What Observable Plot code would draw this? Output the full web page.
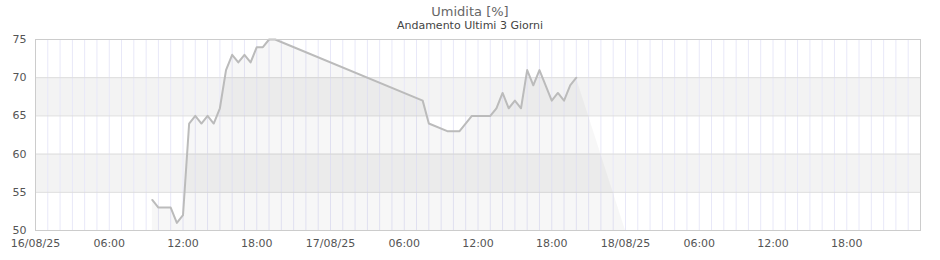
<!DOCTYPE html>
<html>
<head>
<meta charset="utf-8">
<script src="https://cdn.jsdelivr.net/npm/d3@7"></script>
<script src="https://cdn.jsdelivr.net/npm/@observablehq/plot@0.6"></script>
<style>
  html, body { margin: 0; padding: 0; background: #fff; }
  #wrap { position: relative; width: 940px; height: 260px; font-family: "DejaVu Sans", sans-serif; }
  #title { position: absolute; left: 0; width: 940px; top: 4px; text-align: center; font-size: 13px; line-height: 15px; color: #666; }
  #subtitle { position: absolute; left: 0; width: 940px; top: 19px; text-align: center; font-size: 11px; line-height: 14px; color: #444; }
  #chart { position: absolute; left: 0; top: 34px; }
</style>
</head>
<body>
<div id="wrap">
  <div id="title">Umidita [%]</div>
  <div id="subtitle">Andamento Ultimi 3 Giorni</div>
  <div id="chart"></div>
</div>
<script>
// ---- data ----
const times = [
  "2025-08-16T09:30", "2025-08-16T10:00", "2025-08-16T11:00", "2025-08-16T11:30",
  "2025-08-16T12:00", "2025-08-16T12:30", "2025-08-16T13:00", "2025-08-16T13:30",
  "2025-08-16T14:00", "2025-08-16T14:30", "2025-08-16T15:00", "2025-08-16T15:30",
  "2025-08-16T16:00", "2025-08-16T16:30", "2025-08-16T17:00", "2025-08-16T17:30",
  "2025-08-16T18:00", "2025-08-16T18:30", "2025-08-16T19:00", "2025-08-16T19:30",
  "2025-08-17T07:30", "2025-08-17T08:00", "2025-08-17T09:30", "2025-08-17T10:30",
  "2025-08-17T11:30", "2025-08-17T13:00", "2025-08-17T13:30", "2025-08-17T14:00",
  "2025-08-17T14:30", "2025-08-17T15:00", "2025-08-17T15:30", "2025-08-17T16:00",
  "2025-08-17T16:30", "2025-08-17T17:00", "2025-08-17T18:00", "2025-08-17T18:30",
  "2025-08-17T19:00", "2025-08-17T19:30", "2025-08-17T20:00"
];
const humidity = [
  54, 53, 53, 51,
  52, 64, 65, 64,
  65, 64, 66, 71,
  73, 72, 73, 72,
  74, 74, 75, 75,
  67, 64, 63, 63,
  65, 65, 66, 68,
  66, 67, 66, 71,
  69, 71, 67, 68,
  67, 69, 70
];
// area closes down to the baseline at this point
const areaCloseTime = "2025-08-18T00:00";
const areaCloseValue = 50;

const domainStart = "2025-08-16T00:00";
const domainEnd = "2025-08-19T00:00";
const yTicks = [50, 55, 60, 65, 70, 75];
const bandLows = [55, 65];   // shaded bands (low..low+5)
const bandWidth = 5;

// ---- build ----
const parse = s => new Date(s + ":00Z");
const line = times.map((t, i) => ({ t: parse(t), v: humidity[i] }));
const area = line.concat([{ t: parse(areaCloseTime), v: areaCloseValue }]);
const x0 = parse(domainStart), x1 = parse(domainEnd);
const hours = d3.utcHour.range(x0, d3.utcHour.offset(x1, 1));
const xTicks = d3.utcHour.every(6).range(x0, x1);
const bands = bandLows.map(b => ({ y1: b, y2: b + bandWidth }));
const fmtDay = d3.utcFormat("%d/%m/%y"), fmtHour = d3.utcFormat("%H:%M");

const chart = Plot.plot({
  width: 940,
  height: 226,
  marginTop: 5,
  marginBottom: 30,
  marginLeft: 35,
  marginRight: 20,
  style: { fontFamily: "DejaVu Sans, sans-serif", fontSize: "11px", color: "#555", background: "#fff" },
  x: { type: "utc", domain: [x0, x1], ticks: xTicks, tickSize: 0, tickPadding: 9,
       tickFormat: d => d.getUTCHours() === 0 ? fmtDay(d) : fmtHour(d), label: null },
  y: { domain: [50, 75], ticks: yTicks, tickSize: 0, tickPadding: 9, label: null },
  marks: [
    Plot.rect(bands, { x1: () => x0, x2: () => x1, y1: "y1", y2: "y2", fill: "#f3f3f3" }),
    Plot.ruleX(hours, { stroke: "#e8e8f8", strokeWidth: 1 }),
    Plot.ruleY(yTicks, { stroke: "#dddddd", strokeWidth: 1 }),
    Plot.areaY(area, { x: "t", y1: 50, y2: "v", fill: "#000", fillOpacity: 0.03 }),
    Plot.line(line, { x: "t", y: "v", stroke: "#bbbbbb", strokeWidth: 2 }),
    Plot.frame({ stroke: "#cccccc" }),
    Plot.axisX({ ticks: xTicks, tickSize: 0, tickPadding: 9,
                 tickFormat: d => d.getUTCHours() === 0 ? fmtDay(d) : fmtHour(d), label: null, fill: "#555" }),
    Plot.axisY({ ticks: yTicks, tickSize: 0, tickPadding: 9, label: null, fill: "#555" })
  ]
});
document.getElementById("chart").appendChild(chart);
</script>
</body>
</html>
